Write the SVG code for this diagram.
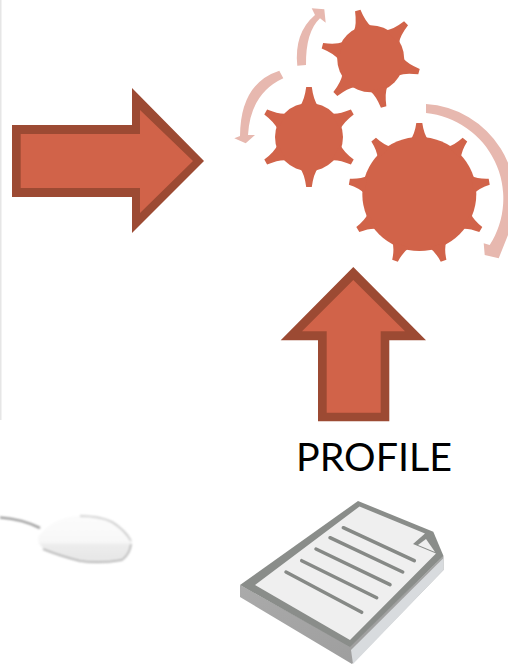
<svg xmlns="http://www.w3.org/2000/svg" width="508" height="664" viewBox="0 0 508 664">
<style>
.dark{fill:#9c4a33}.fill{fill:#d16349}.arc{fill:#e7b8af}.ln{stroke:#868986;stroke-width:3.500;stroke-linecap:round;fill:none}
text{font-family:"Lato","Open Sans","Liberation Sans",sans-serif;font-size:38px;fill:#000}
</style>
<defs>
<path id="tb" class="fill" d="M-9,-54 Q-4.500,-60 -3,-71 L3,-71 Q4.500,-60 9,-54Z"/>
<path id="ts" class="fill" d="M-9,-31 Q-4.500,-37 -2.800,-50 L2.800,-50 Q4.500,-37 9,-31Z"/>
<linearGradient id="mg" x1="0" y1="0" x2="0" y2="1"><stop offset="0" stop-color="#fbfbfb"/><stop offset=".55" stop-color="#f8f8f8"/><stop offset=".64" stop-color="#ececec"/><stop offset="1" stop-color="#e6e6e6"/></linearGradient>
<linearGradient id="sd" x1="0" y1="0" x2="1" y2="1"><stop offset="0" stop-color="#adadad"/><stop offset="1" stop-color="#9a9a9a"/></linearGradient>
<filter id="b1" x="-10%" y="-10%" width="120%" height="120%"><feGaussianBlur stdDeviation="1"/></filter>
<filter id="b2" x="-5%" y="-5%" width="110%" height="110%"><feGaussianBlur stdDeviation=".5"/></filter>
</defs>
<rect width="508" height="664" fill="#fff"/>
<rect x="0" y="0" width="1.500" height="420" fill="#e6e6e6"/>
<g id="connectors">
<g id="arrow-right"><polygon class="dark" points="12,125 132,125 132,88 204,161 132,233 132,197 12,197"/><polygon class="fill" points="20.700,134 140,134 140,110 193,161 140,213 140,188 20.700,188"/></g>
<g id="arrow-up"><polygon class="dark" points="353.300,267 426,340.300 389.300,340.300 389.300,421.300 318,421.300 318,340.300 280.700,340.300"/><polygon class="fill" points="353.300,280 405,331.300 380.700,331.300 380.700,412.700 326.700,412.700 326.700,331.300 302,331.300"/></g>
<path id="arc-big" class="arc" d="M426,104 A95,95 0 0 1 508,235 L498.700,258.300 L484.700,255 L483.700,243.300 L489.700,245 A86,86 0 0 0 426,113 Z"/>
<path id="arc-left" class="arc" d="M279.300,70.700 Q240.400,83.300 240,136 L234.300,138.300 L245.700,143.300 L255,135 L248,135 Q250.400,93.400 283.300,78.300 Z"/>
<path id="arc-up" class="arc" d="M297.300,65.700 Q293.900,33 315,15 L311.700,8.300 L324.300,9.300 L325.700,22.700 L320,18.300 Q305.600,31.800 306,65 Z"/>
</g>
<g id="gear-large" transform="translate(419.300,194)"><circle r="57" class="fill"/>
<use href="#tb"/><use href="#tb" transform="rotate(40)"/><use href="#tb" transform="rotate(80)"/><use href="#tb" transform="rotate(120)"/><use href="#tb" transform="rotate(160)"/><use href="#tb" transform="rotate(200)"/><use href="#tb" transform="rotate(240)"/><use href="#tb" transform="rotate(280)"/><use href="#tb" transform="rotate(320)"/></g>
<g id="gear-left" transform="translate(309,137)"><circle r="34" class="fill"/>
<use href="#ts"/><use href="#ts" transform="rotate(60)"/><use href="#ts" transform="rotate(120)"/><use href="#ts" transform="rotate(180)"/><use href="#ts" transform="rotate(240)"/><use href="#ts" transform="rotate(300)"/></g>
<g id="gear-top" transform="translate(370.700,58.700)"><circle r="33.500" class="fill"/>
<use href="#ts" transform="rotate(-15)"/><use href="#ts" transform="rotate(45)"/><use href="#ts" transform="rotate(105)"/><use href="#ts" transform="rotate(165)"/><use href="#ts" transform="rotate(225)"/><use href="#ts" transform="rotate(285)"/></g>
<g id="profile-label"><text x="296" y="470.500" textLength="156" lengthAdjust="spacingAndGlyphs">PROFILE</text></g>
<g id="mouse"><g filter="url(#b1)">
<path d="M0,517.500 Q22,519 40,528" fill="none" stroke="#8f8f8f" stroke-width="2"/>
<path d="M38,537 Q52,518 77,516 Q100,515 115,524 Q131,533 132,541 Q131,554 122,560 Q100,564 80,561 Q60,556 43,548 Q37,543 38,537Z" fill="url(#mg)"/>
<path d="M43,549 Q60,556 80,561 Q100,564 122,560 Q130,554 131,544" fill="none" stroke="#a8a8a8" stroke-width="1.500"/>
<path d="M80,516 Q100,516 112,522 Q125,530 131,541" fill="none" stroke="#c4c4c4" stroke-width="1.500"/>
</g></g>
<g id="document"><g filter="url(#b2)">
<polygon points="240,585 240,597 352,664 443.500,570 443.500,556 350,646" fill="url(#sd)"/>
<polygon points="351,650 443.500,558 443.500,570 353,664" fill="#d8dbde"/>
<polygon points="358,501 433.300,531.700 443.500,556 350,647 240,585" fill="#8a8d8a"/>
<polygon points="359.500,506.500 425,533.500 413,544 436,553.500 350,640 255,585" fill="#efefef"/>
<polygon points="426,539 435,552 418,545" fill="#efefef"/>
<line class="ln" x1="343.300" y1="527.700" x2="414.300" y2="560.700"/>
<line class="ln" x1="330" y1="537.700" x2="402.700" y2="572"/>
<line class="ln" x1="316" y1="549" x2="390" y2="584.700"/>
<line class="ln" x1="301.700" y1="560.700" x2="376.700" y2="597.700"/>
<line class="ln" x1="286" y1="572" x2="361.700" y2="612.300"/>
</g></g>
</svg>
